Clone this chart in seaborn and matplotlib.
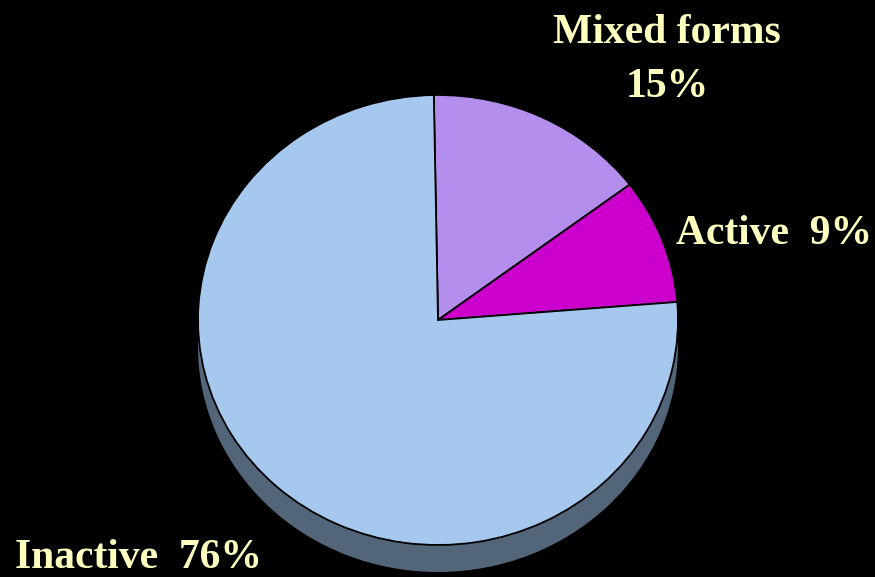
import matplotlib.pyplot as plt
import seaborn as sns

# data
labels = ['Mixed forms', 'Active', 'Inactive']
shares = [15, 9, 76]
colors = ['#B48EEC', '#CC00CC', '#A6C8EE']
side_color = '#536579'
text_color = '#FFFFC0'

sns.set_theme(style="dark", rc={'figure.facecolor': 'black', 'axes.facecolor': 'black'})
plt.rcParams['font.family'] = ['Liberation Serif', 'DejaVu Serif']

W, H = 875, 577
fig = plt.figure(figsize=(W / 100, H / 100), dpi=100)
ax = fig.add_axes([0, 0, 1, 1])
ax.set_facecolor('black')

# pie centre / radii in pixels (pie is slightly squashed vertically)
cx, cy, rx, ry = 438, 320, 240, 225
depth = 0.12

# side of the "3d" pie: a dark copy shifted down
ax.pie([1], colors=[side_color], radius=1, center=(0, -depth),
       wedgeprops=dict(linewidth=0))
ax.pie(shares, colors=colors, startangle=91, counterclock=False, radius=1,
       wedgeprops=dict(edgecolor='black', linewidth=1.3))

ax.set_aspect('auto')
ax.set_xlim(-cx / rx, (W - cx) / rx)
ax.set_ylim(-(H - cy) / ry, cy / ry)
ax.axis('off')

def put(txt, x, y, ha='center'):
    fig.text(x / W, 1 - y / H, txt, ha=ha, va='baseline', color=text_color,
             fontsize=30, fontweight='bold')

put(f'{labels[0]}', 667, 43)
put(f'{shares[0]}%', 667, 97)
put(f'{labels[1]}  {shares[1]}%', 676, 244, ha='left')
put(f'{labels[2]}  {shares[2]}%', 15, 568, ha='left')

fig.savefig('out.png', dpi=100, facecolor='black')
